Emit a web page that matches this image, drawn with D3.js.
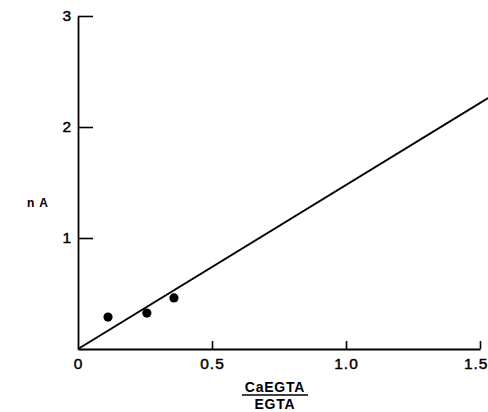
<!DOCTYPE html>
<html>
<head>
<meta charset="utf-8">
<script src="https://cdn.jsdelivr.net/npm/d3@7"></script>
<style>
  html, body { margin: 0; padding: 0; background: #fff; }
  svg { display: block; }
  text { font-family: "Liberation Sans", Arial, sans-serif; fill: #000; }
</style>
</head>
<body>
<svg id="chart" width="488" height="412"></svg>
<script>
// Measured points: current (nA) against CaEGTA/EGTA ratio
const ratio = [0.112, 0.257, 0.358];
const current = [0.288, 0.324, 0.46];

// Fitted straight line through the origin
const fitX = [0, 1.53];
const fitY = [0, 2.26];

// Axis ticks and labels
const xTicks = [0, 0.5, 1.0, 1.5];
const xTickLabels = ["0", "0.5", "1.0", "1.5"];
const yTicks = [1, 2, 3];
const yTickLabels = ["1", "2", "3"];

const svg = d3.select("#chart");

const x = d3.scaleLinear().domain([0, 1.5]).range([78, 480]);
const y = d3.scaleLinear().domain([0, 3]).range([349, 16]);

// x axis: ticks point up into the plot
const xAxis = d3.axisBottom(x)
  .tickValues(xTicks)
  .tickFormat((d, i) => xTickLabels[i])
  .tickSizeInner(-8)
  .tickSizeOuter(0)
  .tickPadding(9);

const gx = svg.append("g")
  .attr("transform", `translate(0,${y(0)})`)
  .call(xAxis);
gx.select(".domain").attr("stroke", "#000").attr("stroke-width", 1.8);
gx.selectAll(".tick line").attr("stroke", "#000").attr("stroke-width", 1.6);
gx.selectAll(".tick").filter(d => d === 0).select("line").remove();
gx.selectAll(".tick text")
  .attr("font-size", 15.5)
  .attr("font-family", "'Liberation Sans', Arial, sans-serif")
  .attr("letter-spacing", 1)
  .attr("stroke", "#000").attr("stroke-width", 0.45);
// keep the last label inside the frame
gx.selectAll(".tick").filter(d => d === 1.5).select("text")
  .attr("text-anchor", "end").attr("dx", 8);

// y axis: ticks point right into the plot
const yAxis = d3.axisLeft(y)
  .tickValues(yTicks)
  .tickFormat((d, i) => yTickLabels[i])
  .tickSizeInner(-15)
  .tickSizeOuter(0)
  .tickPadding(7);

const gy = svg.append("g")
  .attr("transform", `translate(${x(0)},0)`)
  .call(yAxis);
gy.select(".domain").attr("stroke", "#000").attr("stroke-width", 1.8);
gy.selectAll(".tick line").attr("stroke", "#000").attr("stroke-width", 1.6);
gy.selectAll(".tick text")
  .attr("font-size", 15.5)
  .attr("font-family", "'Liberation Sans', Arial, sans-serif")
  .attr("stroke", "#000").attr("stroke-width", 0.45);

// Fitted line
const line = d3.line().x(d => x(d[0])).y(d => y(d[1]));
svg.append("path")
  .datum(fitX.map((v, i) => [v, fitY[i]]))
  .attr("d", line)
  .attr("fill", "none")
  .attr("stroke", "#000")
  .attr("stroke-width", 2);

// Data points
svg.selectAll("circle.pt")
  .data(ratio.map((v, i) => [v, current[i]]))
  .join("circle")
  .attr("class", "pt")
  .attr("cx", d => x(d[0]))
  .attr("cy", d => y(d[1]))
  .attr("r", 4.6)
  .attr("fill", "#000");

// y axis title
svg.append("text")
  .attr("x", 38).attr("y", 207)
  .attr("text-anchor", "middle")
  .attr("font-size", 12)
  .attr("font-weight", "bold")
  .attr("letter-spacing", 1)
  .text("n A");

// x axis title as a fraction
const fracX = 275;
svg.append("text")
  .attr("x", fracX).attr("y", 392)
  .attr("text-anchor", "middle")
  .attr("font-size", 14)
  .attr("font-weight", "bold")
  .attr("letter-spacing", 0.8)
  .text("CaEGTA");
svg.append("line")
  .attr("x1", fracX - 33).attr("x2", fracX + 33)
  .attr("y1", 395).attr("y2", 395)
  .attr("stroke", "#000").attr("stroke-width", 1.6);
svg.append("text")
  .attr("x", fracX).attr("y", 409)
  .attr("text-anchor", "middle")
  .attr("font-size", 14)
  .attr("font-weight", "bold")
  .attr("letter-spacing", 0.8)
  .text("EGTA");
</script>
</body>
</html>
